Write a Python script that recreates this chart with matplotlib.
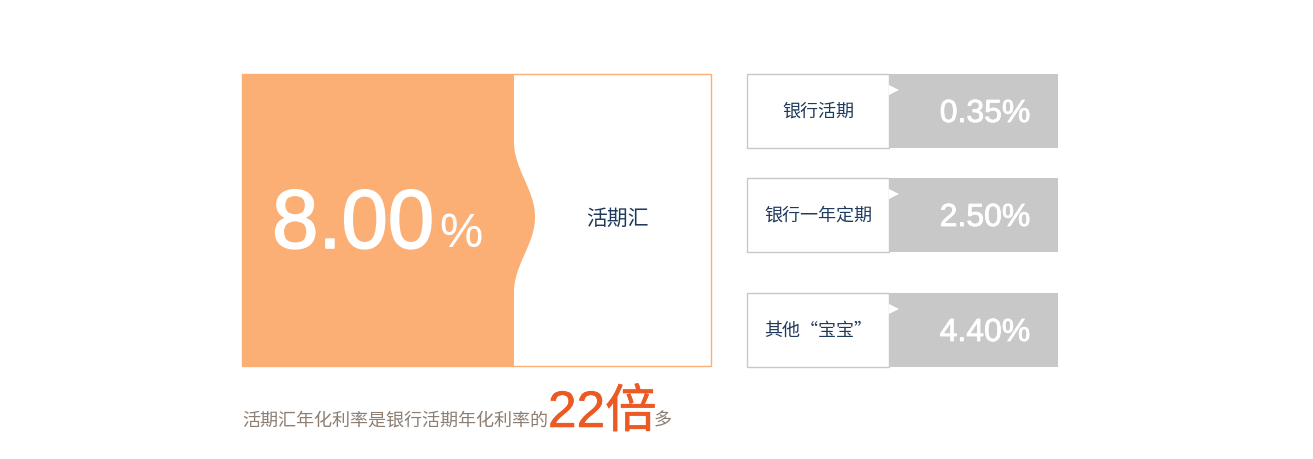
import numpy as np
import matplotlib
matplotlib.use("Agg")
import matplotlib.pyplot as plt
import matplotlib.patheffects as pe
from matplotlib.patches import Rectangle, Polygon

# data
main_label = '活期汇'
main_rate = 8.00
products = ['银行活期', '银行一年定期', '其他“宝宝”']
rates = [0.35, 2.50, 4.40]
ratio = 22

ORANGE = '#FBAF75'
NAVY = '#1E3A5C'
GRAY = '#C8C8C8'
CJK = ['Noto Sans CJK SC', 'DejaVu Sans']
NUM = ['Liberation Sans', 'Noto Sans CJK SC']

def thick(w, c):
    return [pe.Stroke(linewidth=w, foreground=c), pe.Normal()]

W, H = 1313, 459
fig = plt.figure(figsize=(W / 100, H / 100), dpi=100)
ax = fig.add_axes([0, 0, 1, 1])
ax.set_xlim(0, W)
ax.set_ylim(H, 0)
ax.axis('off')

# big box with wavy edge
bx0, bx1, by0, by1 = 242, 711, 74, 366
edge, bump, yc, half = 514, 21, 217, 75
ys = np.linspace(by0, by1, 400)
xs = np.where(np.abs(ys - yc) < half,
              edge + bump * (1 + np.cos(np.pi * (ys - yc) / half)) / 2, edge)
pts = [(bx0, by0)] + list(zip(xs, ys)) + [(bx0, by1)]
ax.add_patch(Polygon(pts, closed=True, facecolor=ORANGE, edgecolor='none'))
ax.add_patch(Rectangle((bx0, by0), bx1 - bx0, by1 - by0, fill=False,
                       edgecolor=ORANGE, lw=1.0))

ax.text(272, 248, '%.2f' % main_rate, color='white', fontsize=60,
        family=NUM, ha='left', va='baseline', path_effects=thick(1.2, 'white'))
ax.text(439, 247, '%', color='white', fontsize=35, family=NUM,
        ha='left', va='baseline')
ax.text(617, 219, main_label, color=NAVY, fontsize=15, family=CJK,
        ha='center', va='center')

# right boxes
tops = [74, 178, 293]
rx0, rmid, rx1, rh = 747, 889, 1058, 74
for top, name, r in zip(tops, products, rates):
    ax.add_patch(Rectangle((rmid, top), rx1 - rmid, rh, facecolor=GRAY,
                           edgecolor='none'))
    ax.add_patch(Rectangle((rx0, top), rmid - rx0, rh, facecolor='white',
                           edgecolor=GRAY, lw=1.0))
    ax.add_patch(Polygon([(rmid, top + 11), (rmid, top + 21), (rmid + 10, top + 16)],
                         closed=True, facecolor='white', edgecolor='none'))
    ax.text((rx0 + rmid) / 2, top + rh / 2 + 1, name, color=NAVY, fontsize=13,
            family=CJK, ha='center', va='center')
    ax.text(985, top + rh / 2 + 11, '%.2f%%' % r, color='white', fontsize=23,
            family=NUM, ha='center', va='baseline', path_effects=thick(0.6, 'white'))

# bottom sentence
ax.text(242, 426, '活期汇年化利率是银行活期年化利率的', color='#8C7E72',
        fontsize=13, family=CJK, ha='left', va='baseline')
ax.text(548, 427, '%d倍' % ratio, color='#EC5A24', fontsize=37,
        family=NUM, ha='left', va='baseline', path_effects=thick(0.4, '#EC5A24'))
ax.text(654, 426, '多', color='#8C7E72', fontsize=13, family=CJK,
        ha='left', va='baseline')

fig.savefig('out.png', dpi=100)
